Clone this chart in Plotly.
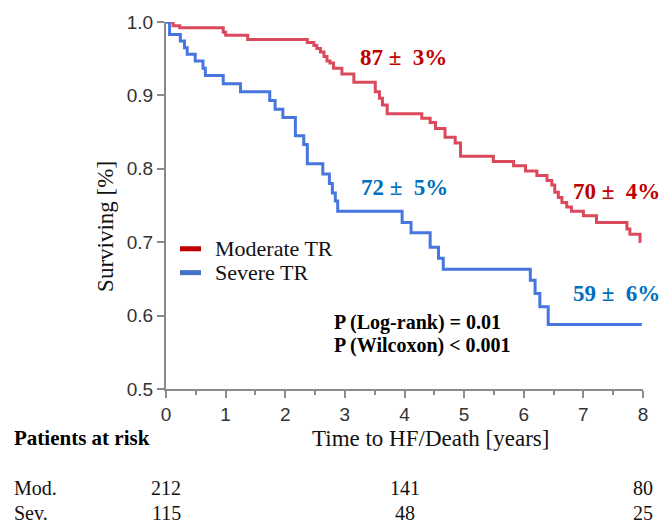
import plotly.graph_objects as go

# ---- data ----
mod_t = [0, 0.12, 0.23, 0.96, 1.00, 1.37, 2.37, 2.48, 2.53, 2.59, 2.65, 2.70, 2.75, 2.81,
         2.95, 3.15, 3.51, 3.58, 3.63, 3.71, 4.29, 4.43, 4.52, 4.68, 4.85, 4.94, 5.49,
         5.83, 6.03, 6.22, 6.39, 6.47, 6.52, 6.58, 6.64, 6.72, 6.80, 7.00, 7.22, 7.73,
         7.78, 7.95, 7.97]
mod_s = [1.0, 0.995, 0.992, 0.986, 0.982, 0.976, 0.972, 0.968, 0.964, 0.959, 0.953, 0.947,
         0.944, 0.937, 0.929, 0.918, 0.905, 0.896, 0.887, 0.875, 0.869, 0.863, 0.855,
         0.843, 0.835, 0.817, 0.810, 0.804, 0.797, 0.791, 0.784, 0.778, 0.768, 0.761,
         0.754, 0.748, 0.742, 0.736, 0.727, 0.718, 0.711, 0.701, 0.701]

sev_t = [0, 0.06, 0.24, 0.31, 0.355, 0.49, 0.62, 0.66, 0.96, 1.25, 1.74, 1.83, 1.96, 2.17,
         2.31, 2.37, 2.63, 2.74, 2.79, 2.84, 2.88, 3.96, 4.11, 4.43, 4.57, 4.65, 6.11,
         6.19, 6.27, 6.41, 7.98]
sev_s = [1.0, 0.983, 0.974, 0.965, 0.956, 0.947, 0.937, 0.927, 0.916, 0.905, 0.893, 0.881,
         0.870, 0.845, 0.833, 0.807, 0.793, 0.780, 0.767, 0.756, 0.742, 0.727, 0.713,
         0.693, 0.678, 0.663, 0.648, 0.630, 0.612, 0.588, 0.588]

x_ticks = [0, 1, 2, 3, 4, 5, 6, 7, 8]
y_ticks = [0.5, 0.6, 0.7, 0.8, 0.9, 1.0]
y_ticklabels = ["0.5", "0.6", "0.7", "0.8", "0.9", "1.0"]

group_names = ["Moderate TR", "Severe TR"]
pct_labels_mod = ["87 ±\u00a0 3%", "70 ±\u00a0 4%"]
pct_labels_sev = ["72 ±\u00a0 5%", "59 ±\u00a0 6%"]
p_texts = ["P (Log-rank) = 0.01", "P (Wilcoxon) < 0.001"]

risk_times = [0, 4, 8]
risk_mod = [212, 141, 80]
risk_sev = [115, 48, 25]

# ---- styling ----
W, H = 662, 524
L, R, T, B = 166, 19, 20, 135
PW, PH = W - L - R, H - T - B

def px(x):
    return (x - L) / PW

def py(y):
    return (H - B - y) / PH

CURVE_RED = "#DA4A5C"
CURVE_BLUE = "#4676DE"
LEG_RED = "#C00000"
LEG_BLUE = "#4472C4"
TXT_RED = "#C00000"
TXT_BLUE = "#0070C0"
SERIF = "Liberation Serif"
SANS = "Liberation Sans"
AXIS_GRAY = "#8a8a8a"

fig = go.Figure()
fig.add_trace(go.Scatter(x=mod_t, y=mod_s, mode="lines", line_shape="hv",
                         line=dict(color=CURVE_RED, width=3), name=group_names[0],
                         showlegend=False))
fig.add_trace(go.Scatter(x=sev_t, y=sev_s, mode="lines", line_shape="hv",
                         line=dict(color=CURVE_BLUE, width=3), name=group_names[1],
                         showlegend=False))

ann = []
# percentage labels
ann.append(dict(x=px(403), y=py(56), text=f"<b>{pct_labels_mod[0]}</b>", font=dict(color=TXT_RED)))
ann.append(dict(x=px(616), y=py(190), text=f"<b>{pct_labels_mod[1]}</b>", font=dict(color=TXT_RED)))
ann.append(dict(x=px(404), y=py(186), text=f"<b>{pct_labels_sev[0]}</b>", font=dict(color=TXT_BLUE)))
ann.append(dict(x=px(616), y=py(293), text=f"<b>{pct_labels_sev[1]}</b>", font=dict(color=TXT_BLUE)))
for a in ann:
    a.update(xref="paper", yref="paper", showarrow=False, xanchor="center", yanchor="middle")
    a["font"].update(family=SERIF, size=23)

# p-values
for i, t in enumerate(p_texts):
    ann.append(dict(x=px(332), y=py(322 + 23 * i), xref="paper", yref="paper",
                    text=f"<b>{t}</b>", showarrow=False, xanchor="left", yanchor="middle",
                    font=dict(family=SERIF, size=20, color="#000")))

# legend text
for i, (name, col) in enumerate(zip(group_names, [LEG_RED, LEG_BLUE])):
    ann.append(dict(x=px(213), y=py(248 + 24 * i), xref="paper", yref="paper", text=name,
                    showarrow=False, xanchor="left", yanchor="middle",
                    font=dict(family=SERIF, size=22, color="#111")))

# axis titles
ann.append(dict(x=px(106), y=py(226), xref="paper", yref="paper", text="Surviving [%]",
                textangle=-90, showarrow=False, xanchor="center", yanchor="middle",
                font=dict(family=SERIF, size=23, color="#111")))
ann.append(dict(x=px(430), y=py(439), xref="paper", yref="paper", text="Time to HF/Death [years]",
                showarrow=False, xanchor="center", yanchor="middle",
                font=dict(family=SERIF, size=23, color="#111")))

# patients at risk
ann.append(dict(x=px(12), y=py(438), xref="paper", yref="paper", text="<b>Patients at risk</b>",
                showarrow=False, xanchor="left", yanchor="middle",
                font=dict(family=SERIF, size=21, color="#000")))
for lab, vals, yy in [("Mod.", risk_mod, 489), ("Sev.", risk_sev, 514)]:
    ann.append(dict(x=px(12), y=py(yy), xref="paper", yref="paper", text=lab,
                    showarrow=False, xanchor="left", yanchor="middle",
                    font=dict(family=SERIF, size=20, color="#111")))
    for t, v in zip(risk_times, vals):
        ann.append(dict(x=t, y=py(yy), xref="x", yref="paper", text=str(v),
                        showarrow=False, xanchor="center", yanchor="middle",
                        font=dict(family=SERIF, size=20, color="#111")))

shapes = []
for i, col in enumerate([LEG_RED, LEG_BLUE]):
    shapes.append(dict(type="line", xref="paper", yref="paper",
                       x0=px(180), x1=px(201), y0=py(248 + 24 * i), y1=py(248 + 24 * i),
                       line=dict(color=col, width=5)))

fig.update_layout(
    width=W, height=H,
    margin=dict(l=L, r=R, t=T, b=B, pad=0),
    plot_bgcolor="white", paper_bgcolor="white",
    annotations=ann, shapes=shapes, showlegend=False,
    xaxis=dict(range=[0, 8], tickvals=x_ticks, showline=True, linecolor=AXIS_GRAY, linewidth=2,
               ticks="outside", ticklen=7, tickwidth=1.5, tickcolor=AXIS_GRAY,
               showgrid=False, zeroline=False,
               tickfont=dict(family=SANS, size=19, color="#333"),
               minor=dict(ticks="outside", ticklen=4, tickwidth=1.5, tickcolor=AXIS_GRAY,
                          dtick=0.5, showgrid=False)),
    yaxis=dict(range=[0.5, 1.0], tickvals=y_ticks, ticktext=y_ticklabels, showline=True,
               linecolor=AXIS_GRAY, linewidth=2, ticks="outside", ticklen=7, tickwidth=1.5,
               tickcolor=AXIS_GRAY, showgrid=False, zeroline=False,
               tickfont=dict(family=SANS, size=19, color="#333")),
)

fig.write_html("out.html", config={"displayModeBar": False},
               post_script="document.body.style.margin='0';document.body.style.overflow='hidden';")
